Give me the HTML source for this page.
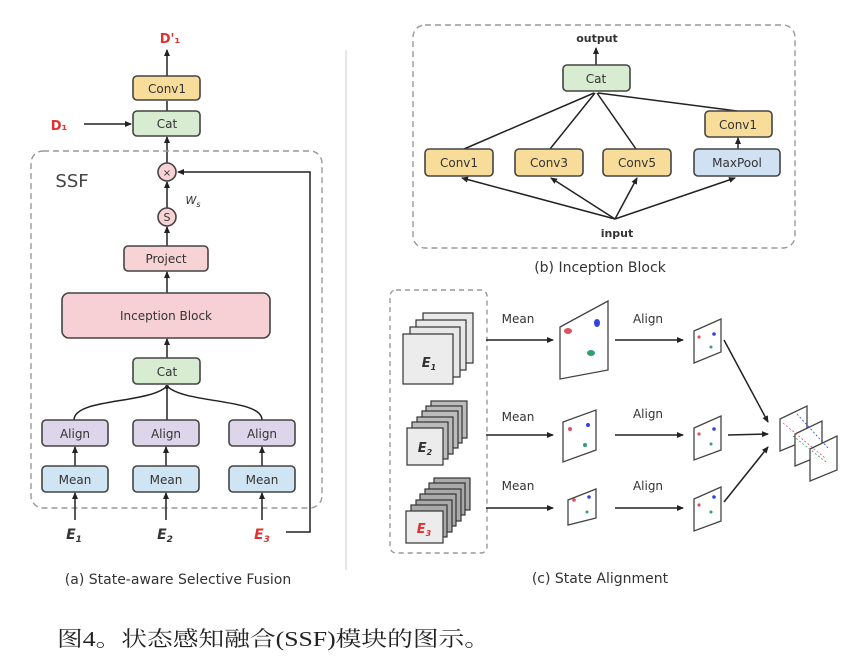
<!DOCTYPE html>
<html><head><meta charset="utf-8"><style>
html,body{margin:0;padding:0;background:#fff;}
svg{display:block;}
.t{font-family:"DejaVu Sans","Liberation Sans",sans-serif;font-size:12px;fill:#333;text-anchor:middle;}
.b{stroke:#444;stroke-width:1.6;}
.l{stroke:#222;stroke-width:1.5;fill:none;}
.p{fill:#fff;stroke:#444;stroke-width:1.3;}
.s{stroke:#333;stroke-width:1.2;}
</style></head><body>
<svg width="865" height="668" viewBox="0 0 865 668" xmlns="http://www.w3.org/2000/svg">
<defs><marker id="a" markerWidth="8" markerHeight="8" refX="6" refY="4" orient="auto" markerUnits="userSpaceOnUse"><path d="M0,1 L7,4 L0,7 Z" fill="#222"/></marker></defs>

<!-- (a) -->
<text x="170" y="43" class="t" style="fill:#e03030;font-weight:bold;font-size:13px">D'₁</text>
<line x1="167" y1="76" x2="167" y2="50" class="l" marker-end="url(#a)"/>
<rect x="133" y="76" width="67" height="24" rx="4" fill="#f8dd9a" class="b"/>
<text x="167" y="93" class="t">Conv1</text>
<line x1="167" y1="111" x2="167" y2="101" class="l"/>
<rect x="133" y="111" width="67" height="25" rx="4" fill="#d7ecd0" class="b"/>
<text x="167" y="128" class="t">Cat</text>
<text x="59" y="130" class="t" style="fill:#e03030;font-weight:bold;font-size:13px">D₁</text>
<line x1="84" y1="124" x2="131" y2="124" class="l" marker-end="url(#a)"/>
<line x1="167" y1="163" x2="167" y2="137" class="l" marker-end="url(#a)"/>
<rect x="31" y="151" width="291" height="357" rx="12" fill="none" stroke="#999" stroke-width="1.4" stroke-dasharray="6,4"/>
<text x="72" y="187" class="t" style="font-size:18px;fill:#444">SSF</text>
<circle cx="167" cy="172" r="9" fill="#f7d3d6" class="b"/>
<text x="167" y="176" class="t" style="font-size:10px">×</text>
<line x1="167" y1="208" x2="167" y2="182" class="l" marker-end="url(#a)"/>
<circle cx="167" cy="217" r="9" fill="#f7d3d6" class="b"/>
<text x="167" y="221" class="t" style="font-size:11px">S</text>
<text x="193" y="204" class="t" style="font-size:11px;font-style:italic">W<tspan font-size="8" dy="3">s</tspan></text>
<line x1="167" y1="246" x2="167" y2="227" class="l" marker-end="url(#a)"/>
<rect x="124" y="246" width="84" height="25" rx="4" fill="#f7d3d6" class="b"/>
<text x="166" y="263" class="t">Project</text>
<line x1="167" y1="293" x2="167" y2="272" class="l" marker-end="url(#a)"/>
<rect x="62" y="293" width="208" height="45" rx="7" fill="#f6d0d5" class="b"/>
<text x="166" y="320" class="t">Inception Block</text>
<line x1="167" y1="358" x2="167" y2="339" class="l" marker-end="url(#a)"/>
<rect x="133" y="358" width="67" height="26" rx="4" fill="#d7ecd0" class="b"/>
<text x="167" y="376" class="t">Cat</text>
<path d="M74,420 C74,398 150,404 167,386 M262,420 C262,398 184,404 167,386 M167,420 L167,386" class="l"/>
<circle cx="167" cy="387" r="2" fill="#222"/>
<rect x="42" y="420" width="66" height="26" rx="4" fill="#ddd6ea" class="b"/>
<rect x="133" y="420" width="66" height="26" rx="4" fill="#ddd6ea" class="b"/>
<rect x="229" y="420" width="66" height="26" rx="4" fill="#ddd6ea" class="b"/>
<text x="75" y="438" class="t">Align</text><text x="166" y="438" class="t">Align</text><text x="262" y="438" class="t">Align</text>
<line x1="75" y1="466" x2="75" y2="447" class="l" marker-end="url(#a)"/>
<line x1="166" y1="466" x2="166" y2="447" class="l" marker-end="url(#a)"/>
<line x1="262" y1="466" x2="262" y2="447" class="l" marker-end="url(#a)"/>
<rect x="42" y="466" width="66" height="26" rx="4" fill="#cfe5f3" class="b"/>
<rect x="133" y="466" width="66" height="26" rx="4" fill="#cfe5f3" class="b"/>
<rect x="229" y="466" width="66" height="26" rx="4" fill="#cfe5f3" class="b"/>
<text x="75" y="484" class="t">Mean</text><text x="166" y="484" class="t">Mean</text><text x="262" y="484" class="t">Mean</text>
<line x1="75" y1="520" x2="75" y2="493" class="l" marker-end="url(#a)"/>
<line x1="166" y1="520" x2="166" y2="493" class="l" marker-end="url(#a)"/>
<line x1="262" y1="520" x2="262" y2="493" class="l" marker-end="url(#a)"/>
<text x="74" y="539" class="t" style="font-size:14px;font-style:italic;font-weight:bold">E<tspan font-size="9" dy="3">1</tspan></text>
<text x="165" y="539" class="t" style="font-size:14px;font-style:italic;font-weight:bold">E<tspan font-size="9" dy="3">2</tspan></text>
<text x="262" y="539" class="t" style="font-size:14px;font-style:italic;font-weight:bold;fill:#e03030">E<tspan font-size="9" dy="3">3</tspan></text>
<path d="M286,532 L310,532 L310,172 L178,172" class="l" marker-end="url(#a)"/>
<text x="178" y="584" class="t" style="font-size:14px">(a) State-aware Selective Fusion</text>
<line x1="346" y1="50" x2="346" y2="570" stroke="#ddd" stroke-width="1.5"/>

<!-- (b) -->
<rect x="413" y="25" width="382" height="223" rx="12" fill="none" stroke="#999" stroke-width="1.4" stroke-dasharray="6,4"/>
<text x="597" y="42" class="t" style="font-weight:bold;font-size:11px">output</text>
<line x1="596" y1="65" x2="596" y2="48" class="l" marker-end="url(#a)"/>
<rect x="563" y="65" width="67" height="26" rx="4" fill="#d7ecd0" class="b"/>
<text x="596" y="83" class="t">Cat</text>
<path d="M464,149 L594,93 M550,149 L595,93 M636,149 L597,93 M737,111 L598,93" class="l"/>
<rect x="705" y="111" width="67" height="26" rx="4" fill="#f8dd9a" class="b"/>
<text x="738" y="129" class="t">Conv1</text>
<line x1="738" y1="149" x2="738" y2="138" class="l" marker-end="url(#a)"/>
<rect x="425" y="149" width="68" height="27" rx="4" fill="#f8dd9a" class="b"/>
<rect x="515" y="149" width="68" height="27" rx="4" fill="#f8dd9a" class="b"/>
<rect x="603" y="149" width="68" height="27" rx="4" fill="#f8dd9a" class="b"/>
<rect x="694" y="149" width="86" height="27" rx="4" fill="#cfe1f2" class="b"/>
<text x="459" y="167" class="t">Conv1</text><text x="549" y="167" class="t">Conv3</text><text x="637" y="167" class="t">Conv5</text><text x="737" y="167" class="t">MaxPool</text>
<line x1="615" y1="219" x2="462" y2="178" class="l" marker-end="url(#a)"/>
<line x1="615" y1="219" x2="551" y2="178" class="l" marker-end="url(#a)"/>
<line x1="615" y1="219" x2="637" y2="178" class="l" marker-end="url(#a)"/>
<line x1="615" y1="219" x2="735" y2="178" class="l" marker-end="url(#a)"/>
<text x="617" y="237" class="t" style="font-weight:bold;font-size:11px">input</text>
<text x="600" y="272" class="t" style="font-size:14px">(b) Inception Block</text>

<!-- (c) -->
<rect x="390" y="290" width="97" height="263" rx="6" fill="none" stroke="#999" stroke-width="1.4" stroke-dasharray="5,4"/>
<g class="s" fill="#e8e8e8">
<rect x="423" y="313" width="50" height="50"/><rect x="416" y="320" width="50" height="50"/><rect x="410" y="327" width="50" height="50"/>
<rect x="403" y="334" width="50" height="50" fill="#ececec"/>
<rect x="431" y="401" width="36" height="37" fill="#bbb"/><rect x="426" y="406" width="36" height="37" fill="#bbb"/><rect x="422" y="411" width="36" height="37" fill="#bbb"/><rect x="417" y="417" width="36" height="37" fill="#bbb"/><rect x="412" y="422" width="36" height="37" fill="#bbb"/>
<rect x="407" y="428" width="36" height="37" fill="#ececec"/>
<rect x="434" y="478" width="36" height="32" fill="#aaa"/><rect x="429" y="483" width="36" height="32" fill="#aaa"/><rect x="425" y="489" width="36" height="32" fill="#aaa"/><rect x="420" y="494" width="36" height="32" fill="#aaa"/><rect x="416" y="500" width="36" height="32" fill="#aaa"/><rect x="411" y="505" width="36" height="32" fill="#aaa"/>
<rect x="406" y="511" width="37" height="32" fill="#ececec"/>
</g>
<text x="429" y="367" class="t" style="font-size:13px;font-style:italic;font-weight:bold">E<tspan font-size="8" dy="3">1</tspan></text>
<text x="425" y="452" class="t" style="font-size:13px;font-style:italic;font-weight:bold">E<tspan font-size="8" dy="3">2</tspan></text>
<text x="424" y="533" class="t" style="font-size:13px;font-style:italic;font-weight:bold;fill:#e03030">E<tspan font-size="8" dy="3">3</tspan></text>

<text x="518" y="323" class="t">Mean</text><text x="518" y="421" class="t">Mean</text><text x="518" y="490" class="t">Mean</text>
<text x="648" y="323" class="t">Align</text><text x="648" y="418" class="t">Align</text><text x="648" y="490" class="t">Align</text>
<line x1="486" y1="340" x2="553" y2="340" class="l" marker-end="url(#a)"/>
<line x1="486" y1="435" x2="553" y2="435" class="l" marker-end="url(#a)"/>
<line x1="486" y1="508" x2="553" y2="508" class="l" marker-end="url(#a)"/>
<line x1="615" y1="340" x2="683" y2="340" class="l" marker-end="url(#a)"/>
<line x1="615" y1="435" x2="683" y2="435" class="l" marker-end="url(#a)"/>
<line x1="615" y1="508" x2="683" y2="508" class="l" marker-end="url(#a)"/>

<polygon points="560,327 608,301 608,370 560,379" class="p"/>
<ellipse cx="568" cy="331" rx="4" ry="3" fill="#e05060"/><ellipse cx="597" cy="323" rx="3" ry="4" fill="#3344dd"/><ellipse cx="591" cy="353" rx="4" ry="3" fill="#30a070"/>
<polygon points="563,422 596,410 596,450 563,462" class="p"/>
<circle cx="570" cy="429" r="2" fill="#e05060"/><circle cx="588" cy="425" r="2" fill="#3344dd"/><circle cx="585" cy="445" r="2" fill="#30a070"/>
<polygon points="568,500 596,489 596,518 568,525" class="p"/>
<circle cx="574" cy="500" r="1.8" fill="#e05060"/><circle cx="589" cy="497" r="1.8" fill="#3344dd"/><circle cx="587" cy="512" r="1.5" fill="#30a070"/>

<g>
<polygon points="694,331 721,319 721,352 694,363" class="p"/>
<circle cx="699" cy="337" r="1.6" fill="#e05060"/><circle cx="714" cy="334" r="1.8" fill="#3344dd"/><circle cx="711" cy="347" r="1.5" fill="#30a070"/>
<polygon points="694,428 721,416 721,450 694,460" class="p"/>
<circle cx="699" cy="434" r="1.6" fill="#e05060"/><circle cx="714" cy="429" r="1.8" fill="#3344dd"/><circle cx="711" cy="444" r="1.5" fill="#30a070"/>
<polygon points="694,499 721,487 721,521 694,531" class="p"/>
<circle cx="699" cy="505" r="1.6" fill="#e05060"/><circle cx="714" cy="497" r="1.8" fill="#3344dd"/><circle cx="711" cy="512" r="1.5" fill="#30a070"/>
</g>
<line x1="724" y1="340" x2="768" y2="422" class="l" marker-end="url(#a)"/>
<line x1="728" y1="435" x2="768" y2="434" class="l" marker-end="url(#a)"/>
<line x1="724" y1="502" x2="768" y2="447" class="l" marker-end="url(#a)"/>
<polygon points="780,419 807,406 807,440 780,451" class="p"/>
<polygon points="795,434 822,421 822,455 795,466" class="p"/>
<polygon points="810,449 837,436 837,470 810,481" class="p"/>
<line x1="783" y1="423" x2="825" y2="458" stroke="#e05060" stroke-width="0.8" stroke-dasharray="2,2"/>
<line x1="797" y1="414" x2="828" y2="448" stroke="#3344dd" stroke-width="0.8" stroke-dasharray="2,2"/>
<line x1="793" y1="436" x2="826" y2="462" stroke="#30a070" stroke-width="0.8" stroke-dasharray="2,2"/>
<text x="600" y="583" class="t" style="font-size:14px">(c) State Alignment</text>

<text x="57" y="646" style="font-family:'Liberation Serif','Noto Serif CJK SC',serif;font-size:21px;fill:#222" textLength="433" lengthAdjust="spacingAndGlyphs">图4。状态感知融合(SSF)模块的图示。</text>
</svg>
</body></html>
